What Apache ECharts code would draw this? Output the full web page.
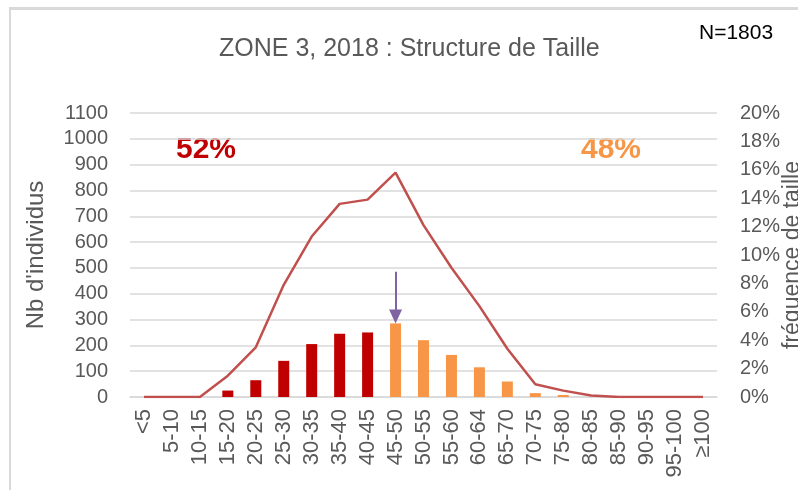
<!DOCTYPE html>
<html>
<head>
<meta charset="utf-8">
<script src="https://cdn.jsdelivr.net/npm/echarts@6/dist/echarts.min.js"></script>
<style>
  html, body { margin: 0; padding: 0; background: #fff; }
  #chart { width: 798px; height: 490px; }
</style>
</head>
<body>
<div id="chart"></div>
<script>
// classes de taille
var categories = ['<5', '5-10', '10-15', '15-20', '20-25', '25-30', '30-35', '35-40', '40-45', '45-50',
    '50-55', '55-60', '60-64', '65-70', '70-75', '75-80', '80-85', '85-90', '90-95', '95-100', '\u2265100'];
// Nb d'individus par classe
var counts = [0, 0, 0, 25, 65, 140, 205, 245, 250, 285, 220, 163, 115, 60, 15, 8, 0, 0, 0, 0, 0];
// fréquence de taille (%)
var freq = [0, 0, 0, 1.5, 3.5, 7.9, 11.3, 13.6, 13.9, 15.8, 12.1, 9.1, 6.4, 3.4, 0.9, 0.45, 0.1, 0, 0, 0, 0];
var leftTicks = [0, 1100, 100];
var rightTicks = [0, 20, 2];
var splitIndex = 9; // premiere classe orange (45-50)
var shareLeft = '52%', shareRight = '48%';
var arrowFrom = 485, arrowTo = 312;

var font = 'Liberation Sans';
var grey = '#595959';

var chart = echarts.init(document.getElementById('chart'));
var option = {
    animation: false,
    backgroundColor: '#fff',
    textStyle: {fontFamily: font},
    title: {
        text: 'ZONE 3, 2018 : Structure de Taille',
        left: 214,
        top: 32,
        textStyle: {fontFamily: font, fontSize: 25, fontWeight: 'normal', color: grey}
    },
    graphic: [
        // cadre
        {type: 'rect', shape: {x: 9, y: 7, width: 800, height: 3}, style: {fill: '#d9d9d9'}, silent: true},
        {type: 'rect', shape: {x: 9, y: 7, width: 2, height: 490}, style: {fill: '#d9d9d9'}, silent: true},
        {type: 'text', left: 699, top: 23, style: {text: 'N=1803', font: '21px ' + font, fill: '#000'}},
        {type: 'text', left: 176, top: 135, style: {text: shareLeft, font: 'bold 30px ' + font, fill: '#c00000'}},
        {type: 'text', left: 581, top: 135, style: {text: shareRight, font: 'bold 30px ' + font, fill: '#f79646'}}
    ],
    grid: {left: 130, right: 81, top: 113, bottom: 93, containLabel: false, outerBoundsMode: 'none'},
    xAxis: {
        type: 'category',
        data: categories,
        axisLine: {lineStyle: {color: '#d9d9d9', width: 1.5}},
        axisTick: {show: false},
        axisLabel: {rotate: 90, color: grey, fontSize: 22, interval: 0, margin: 12}
    },
    yAxis: [{
        type: 'value',
        min: leftTicks[0], max: leftTicks[1], interval: leftTicks[2],
        name: "Nb d'individus",
        nameLocation: 'middle',
        nameGap: 82,
        nameTextStyle: {fontSize: 24, color: grey},
        axisLine: {show: false},
        axisTick: {show: false},
        axisLabel: {color: grey, fontSize: 20, margin: 22, formatter: function (v) { return String(v); }},
        splitLine: {lineStyle: {color: '#d9d9d9', width: 1.5}}
    }, {
        type: 'value',
        min: rightTicks[0], max: rightTicks[1], interval: rightTicks[2],
        name: 'fréquence de taille',
        nameLocation: 'middle',
        nameGap: 64,
        nameRotate: 90,
        nameMoveOverlap: false,
        nameTextStyle: {fontSize: 23, color: grey},
        axisLine: {show: false},
        axisTick: {show: false},
        axisLabel: {color: grey, fontSize: 20, margin: 23, formatter: '{value}%'},
        splitLine: {show: false}
    }],
    series: [{
        type: 'bar',
        data: counts,
        barWidth: 11,
        itemStyle: {
            color: function (p) { return p.dataIndex < splitIndex ? '#c00000' : '#f79646'; }
        },
        markLine: {
            silent: true,
            symbol: ['none', 'triangle'],
            symbolSize: [13, 14],
            label: {show: false},
            lineStyle: {color: '#8064a2', width: 2, type: 'solid'},
            data: [[{coord: [categories[splitIndex], arrowFrom]}, {coord: [categories[splitIndex], arrowTo]}]]
        }
    }, {
        type: 'line',
        yAxisIndex: 1,
        data: freq,
        symbol: 'none',
        lineStyle: {color: '#c0504d', width: 2.5}
    }]
};
chart.setOption(option);
</script>
</body>
</html>
